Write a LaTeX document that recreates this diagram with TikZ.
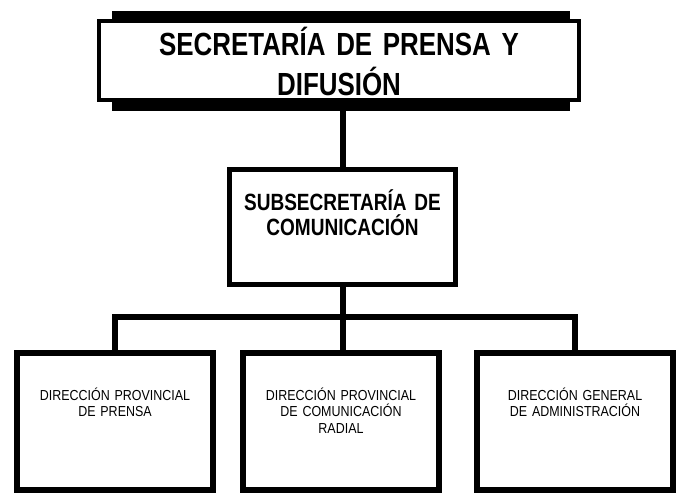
\documentclass[tikz,border=0pt]{standalone}
\usepackage{fontspec}
\setmainfont{Liberation Sans}
\newfontfamily\headfont[FakeStretch=0.81]{Liberation Sans}
\newfontfamily\boxfont[FakeStretch=0.86]{Liberation Sans}
\usetikzlibrary{positioning}
\begin{document}
\begin{tikzpicture}[x=1pt,y=-1pt,
	box/.style={draw, rectangle, inner sep=0pt, align=center},
	dbox/.style={box, line width=6pt, text width=196pt, text height=47pt, text depth=90pt, font=\boxfont\fontsize{14.5}{16.5}\selectfont},
	link/.style={line width=6pt}]
	\useasboundingbox (0,0) rectangle (679,498);
	\node (sec) [box, line width=4pt, text width=480pt, text height=34pt, text depth=45pt, font=\headfont\bfseries\fontsize{32}{40}\selectfont] at (339,60.5) {SECRETARÍA DE PRENSA Y\\DIFUSIÓN};
	\node (sub) [box, line width=5pt, text width=226pt, text height=40.5pt, text depth=74.5pt, font=\headfont\bfseries\fontsize{23.5}{25}\selectfont, below=65pt of sec, xshift=3.5pt] {SUBSECRETARÍA DE\\COMUNICACIÓN};
	\node (d2) [dbox, below=63pt of sub, xshift=-1.5pt] {DIRECCIÓN PROVINCIAL\\DE COMUNICACIÓN\\RADIAL};
	\node (d1) [dbox, left=24pt of d2] {DIRECCIÓN PROVINCIAL\\DE PRENSA};
	\node (d3) [dbox, right=32pt of d2] {DIRECCIÓN GENERAL\\DE ADMINISTRACIÓN};
	\coordinate (bus) at (0,317);
	
	% heavy bars over and under the top frame
	\fill ([xshift=15pt,yshift=8pt]sec.north west) rectangle ([xshift=-11pt,yshift=-3pt]sec.north east);
	\fill ([xshift=15pt,yshift=4pt]sec.south west) rectangle ([xshift=-11pt,yshift=-9pt]sec.south east);
	
	\draw[link] (sub.north) -- (sub.north |- sec.south);
	\draw[link] (sub.south) -- (sub.south |- d2.north);
	\draw[link] (d1.north) -- (d1.north |- bus) -- (d3.north |- bus) -- (d3.north);
\end{tikzpicture}
\end{document}
